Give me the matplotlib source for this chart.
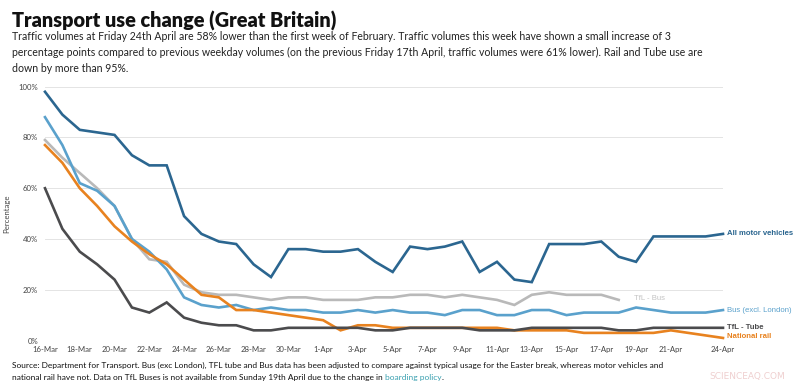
import matplotlib
matplotlib.use("Agg")
import matplotlib.pyplot as plt
import matplotlib.dates as mdates
import pandas as pd

plt.rcParams['font.family'] = ['Lato', 'DejaVu Sans']

# daily values, 16-Mar to 24-Apr 2020 (percent of pre-lockdown level)
dates = pd.date_range('2020-03-16', '2020-04-24')
motor = [98, 89, 83, 82, 81, 73, 69, 69, 49, 42, 39, 38, 30, 25, 36, 36, 35, 35, 36, 31,
         27, 37, 36, 37, 39, 27, 31, 24, 23, 38, 38, 38, 39, 33, 31, 41, 41, 41, 41, 42]
bus_ex_london = [88, 77, 62, 59, 53, 40, 35, 28, 17, 14, 13, 14, 12, 13, 12, 12, 11, 11, 12, 11,
                 12, 11, 11, 10, 12, 12, 10, 10, 12, 12, 10, 11, 11, 11, 13, 12, 11, 11, 11, 12]
tfl_bus = [79, 72, 66, 60, 53, 40, 32, 31, 22, 19, 18, 18, 17, 16, 17, 17, 16, 16, 16, 17,
           17, 18, 18, 17, 18, 17, 16, 14, 18, 19, 18, 18, 18, 16]  # stops 18-Apr
rail = [77, 70, 60, 53, 45, 39, 34, 30, 24, 18, 17, 12, 12, 11, 10, 9, 8, 4, 6, 6,
        5, 5, 5, 5, 5, 5, 5, 4, 4, 4, 4, 3, 3, 3, 3, 3, 4, 3, 2, 1]
tube = [60, 44, 35, 30, 24, 13, 11, 15, 9, 7, 6, 6, 4, 4, 5, 5, 5, 5, 5, 4,
        4, 5, 5, 5, 5, 4, 4, 4, 5, 5, 5, 5, 5, 4, 4, 5, 5, 5, 5, 5]

tick_days = ['2020-03-16', '2020-03-18', '2020-03-20', '2020-03-22', '2020-03-24', '2020-03-26',
             '2020-03-28', '2020-03-30', '2020-04-01', '2020-04-03', '2020-04-05', '2020-04-07',
             '2020-04-09', '2020-04-11', '2020-04-13', '2020-04-15', '2020-04-17', '2020-04-19',
             '2020-04-21', '2020-04-24']

fig = plt.figure(figsize=(8, 3.84), dpi=100)
ax = fig.add_axes([45/800, 1 - 340.5/384, (723 - 45)/800, (340.5 - 86.7)/384])

series = [
    (motor, '#2b6690', 'All motor vehicles', 'bold'),
    (tfl_bus, '#b9b9b9', 'TfL - Bus', 'normal'),
    (bus_ex_london, '#5aa1cc', 'Bus (excl. London)', 'normal'),
    (rail, '#e8821f', 'National rail', 'bold'),
    (tube, '#4b4b4d', 'TfL - Tube', 'bold'),
]
for vals, col, name, w in series:
    ax.plot(dates[:len(vals)], vals, color=col, lw=1.9, solid_joinstyle='miter', clip_on=False)

# end labels
lab_font = ['Liberation Sans', 'DejaVu Sans']
ax.text(dates[len(tfl_bus) - 1] + pd.Timedelta(days=0.9), 16.5, 'TfL - Bus', color='#c4c4c4',
        fontsize=5.6, va='center', family=lab_font)
lab_y = {'All motor vehicles': 42, 'Bus (excl. London)': 12, 'TfL - Tube': 5.3, 'National rail': 1.5}
for vals, col, name, w in series:
    if name in lab_y:
        ax.text(dates[-1] + pd.Timedelta(days=0.25), lab_y[name], name, color=col,
                fontsize=5.6, fontweight=w, va='center', family=lab_font)

ax.set_ylim(0, 100)
ax.set_xlim(dates[0], dates[-1])
ax.set_yticks([0, 20, 40, 60, 80, 100])
ax.set_yticklabels([f'{v}%' for v in [0, 20, 40, 60, 80, 100]])
ax.set_xticks(pd.to_datetime(tick_days))
ax.xaxis.set_major_formatter(mdates.DateFormatter('%-d-%b'))
ax.tick_params(length=0, labelsize=5.6, colors='#444444', pad=4)
ax.tick_params(axis='y', pad=5)
ax.grid(axis='y', color='#e4e4e4', lw=0.7)
ax.set_axisbelow(True)
for s in ax.spines.values():
    s.set_visible(False)
ax.set_ylabel('Percentage', fontsize=5.6, color='#444444', labelpad=6)

fig.text(12/800, 1 - 28/384, 'Transport use change (Great Britain)', fontsize=14.3,
         fontweight='heavy', color='#111111', va='baseline')
sub = ("Traffic volumes at Friday 24th April are 58% lower than the first week of February. "
       "Traffic volumes this week have shown a small increase of 3\n"
       "percentage points compared to previous weekday volumes (on the previous Friday 17th April, "
       "traffic volumes were 61% lower). Rail and Tube use are\n"
       "down by more than 95%.")
fig.text(12/800, 1 - 31/384, sub, fontsize=7.6, color='#222222', va='top', linespacing=1.55)

src1 = ("Source: Department for Transport. Bus (exc London), TFL tube and Bus data has been adjusted "
        "to compare against typical usage for the Easter break, whereas motor vehicles and")
src2 = "national rail have not. Data on TfL Buses is not available from Sunday 19th April due to the change in "
fig.text(12/800, 1 - 368/384, src1, fontsize=6.0, color='#111111', va='baseline')
t2 = fig.text(12/800, 1 - 380/384, src2, fontsize=6.0, color='#111111', va='baseline')
fig.canvas.draw()
bb = t2.get_window_extent()
t3 = fig.text(bb.x1 / 800, 1 - 380/384, 'boarding policy', fontsize=6.0, color='#3aa0b0',
              va='baseline')
fig.canvas.draw()
bb3 = t3.get_window_extent()
fig.text(bb3.x1 / 800, 1 - 380/384, '.', fontsize=6.0, color='#111111', va='baseline')
fig.text(785/800, 1 - 379/384, 'SCIENCEAQ.COM', fontsize=6.5, color='#efcfcf', ha='right',
         va='baseline', family='DejaVu Sans')

fig.savefig('out.png', dpi=100)
